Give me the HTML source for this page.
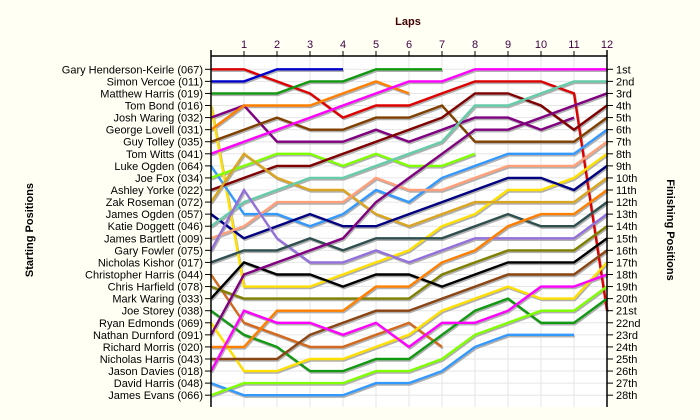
<!DOCTYPE html>
<html><head><meta charset="utf-8"><style>
html,body{margin:0;padding:0;background:#fffff4;}
svg{display:block;font-family:"Liberation Sans",sans-serif;}
</style></head><body>
<svg id="chart" width="700" height="420" viewBox="0 0 700 420" xmlns="http://www.w3.org/2000/svg">
<rect x="0" y="0" width="700" height="420" fill="#fffff4"/>
<rect x="211" y="56" width="396" height="351" fill="#ffffff"/>
<g id="grid"></g>
<g id="shadows"></g>
<g id="lines"></g>
<g id="axes"></g>
<text x="408" y="25" text-anchor="middle" font-size="11" font-weight="bold" fill="#400000">Laps</text>
<text transform="translate(33,230) rotate(-90)" text-anchor="middle" font-size="11" font-weight="bold" fill="#000">Starting Positions</text>
<text transform="translate(667,230) rotate(90)" text-anchor="middle" font-size="11" font-weight="bold" fill="#000">Finishing Positions</text>
</svg>
<script>
const drivers = ["Gary Henderson-Keirle (067)","Simon Vercoe (011)","Matthew Harris (019)","Tom Bond (016)","Josh Waring (032)","George Lovell (031)","Guy Tolley (035)","Tom Witts (041)","Luke Ogden (064)","Joe Fox (034)","Ashley Yorke (022)","Zak Roseman (072)","James Ogden (057)","Katie Doggett (046)","James Bartlett (009)","Gary Fowler (075)","Nicholas Kishor (017)","Christopher Harris (044)","Chris Harfield (078)","Mark Waring (033)","Joe Storey (038)","Ryan Edmonds (069)","Nathan Durnford (091)","Richard Morris (020)","Nicholas Harris (043)","Jason Davies (018)","David Harris (048)","James Evans (066)"];
const finishLabels = ["1st","2nd","3rd","4th","5th","6th","7th","8th","9th","10th","11th","12th","13th","14th","15th","16th","17th","18th","19th","20th","21st","22nd","23rd","24th","25th","26th","27th","28th"];
const lapTicks = [1,2,3,4,5,6,7,8,9,10,11,12];
const colors = ["#dd0000","#0000cc","#119911","#ffe000","#800080","#ff8000","#804000","#ff00ff","#3399ff","#80ff00","#800000","#daa520","#000080","#66ccaa","#ffa07a","#9370db","#2f4f4f","#d2691e","#808000","#000000","#119911","#ffe000","#800080","#ff8000","#8b4513","#ff00ff","#3399ff","#80ff00"];
const p01 = [1,1,2,3,5,4,4,3,2,2,2,3,21];
const p02 = [2,2,1,1,1];
const p03 = [3,3,3,2,2,1,1,1];
const p04 = [4,19,19,19,18,17,16,14,13,11,11,10,8];
const p05 = [5,4,7,7,7,6,7,6,5,5,6,5];
const p06 = [6,4,4,4,3,2,3];
const p07 = [7,6,5,6,6,5,5,4,7,7,7,7,5];
const p08 = [8,7,6,5,4,3,2,2,1,1,1,1,1];
const p09 = [9,13,13,14,13,11,12,10,9,8,8,8,6];
const p10 = [10,9,8,8,9,8,9,9,8];
const p11 = [11,10,9,9,8,7,6,5,3,3,4,6,4];
const p12 = [12,8,10,11,11,13,14,13,12,12,12,12,10];
const p13 = [13,15,14,13,14,14,13,12,11,10,10,11,9];
const p14 = [14,12,11,10,10,9,8,7,4,4,3,2,2];
const p15 = [15,14,12,12,12,10,11,11,10,9,9,9,7];
const p16 = [16,11,15,17,17,16,17,16,15,15,15,15,13];
const p17 = [17,16,16,15,16,15,15,15,14,13,14,14,12];
const p18 = [18,22,23,24,24,23,22,24];
const p19 = [19,20,20,20,20,20,20,18,17,16,16,16,14];
const p20 = [20,17,18,18,19,18,18,19,18,17,17,17,15];
const p21 = [21,23,24,26,26,25,25,23,21,20,22,22,20];
const p22 = [22,26,26,25,25,24,23,21,20,19,20,20,17];
const p23 = [23,18,17,16,15,12,10,8,6,6,5,4,3];
const p24 = [24,24,21,21,21,19,19,17,16,14,13,13,11];
const p25 = [25,25,25,23,22,21,21,20,19,18,18,18,16];
const p26 = [26,21,22,22,23,22,24,22,22,21,19,19,18];
const p27 = [27,28,28,28,28,27,27,26,24,23,23,23];
const p28 = [28,27,27,27,27,26,26,25,23,22,21,21,19];
const series = [p01,p02,p03,p04,p05,p06,p07,p08,p09,p10,p11,p12,p13,p14,p15,p16,p17,p18,p19,p20,p21,p22,p23,p24,p25,p26,p27,p28];

const NS="http://www.w3.org/2000/svg";
const X0=211, X1=607, Y0=69.3, DY=12.07, NL=12;
function xScale(l){return X0+(X1-X0)*l/NL;}
function yScale(p){return Y0+(p-1)*DY;}
function mk(tag,attrs,parent){const e=document.createElementNS(NS,tag);for(const k in attrs)e.setAttribute(k,attrs[k]);parent.appendChild(e);return e;}
const grid=document.getElementById('grid'),axes=document.getElementById('axes'),sh=document.getElementById('shadows'),ln=document.getElementById('lines');
for(let i=0;i<drivers.length;i++){
  const g=mk('line',{x1:X0,x2:X1,y1:yScale(i+1),y2:yScale(i+1),stroke:'#e6e6e6','stroke-width':1},grid);
  
  
}
for(const l of lapTicks){
  const g=mk('line',{x1:xScale(l),x2:xScale(l),y1:56,y2:407,stroke:'#e6e6e6','stroke-width':1},grid);
  
  
}
// axes
let a=mk('line',{x1:X0,x2:X0,y1:50,y2:407,stroke:'#000','stroke-width':1.5},axes);


a=mk('line',{x1:X1,x2:X1,y1:50,y2:407,stroke:'#000','stroke-width':1.5},axes);


a=mk('line',{x1:X0,x2:X1,y1:56,y2:56,stroke:'#000','stroke-width':1.5},axes);


for(const l of lapTicks){
  const t=mk('line',{x1:xScale(l),x2:xScale(l),y1:51,y2:56,stroke:'#000'},axes);
  
  
  const tx=mk('text',{x:xScale(l),y:48,'text-anchor':'middle','font-size':11,fill:'#400040'},axes);
  tx.textContent=l;
  
  
}
drivers.forEach((d,i)=>{
  const y=yScale(i+1);
  const t=mk('line',{x1:X0-6,x2:X0,y1:y,y2:y,stroke:'#000'},axes);
  
  
  const tx=mk('text',{x:X0-8,y:y+4,'text-anchor':'end','font-size':11,fill:'#000'},axes);
  tx.textContent=d;
  
  
});
finishLabels.forEach((f,i)=>{
  const y=yScale(i+1);
  const t=mk('line',{x1:X1,x2:X1+6,y1:y,y2:y,stroke:'#000'},axes);
  
  
  const tx=mk('text',{x:X1+9,y:y+4,'font-size':11,fill:'#000'},axes);
  tx.textContent=f;
  
  
});
series.forEach((s,i)=>{
  const pts=s.map((p,l)=>xScale(l).toFixed(1)+','+yScale(p).toFixed(1)).join(' ');
  const shp=mk('polyline',{points:pts,fill:'none',stroke:'#b0b0b0','stroke-width':2.2,'stroke-linejoin':'miter',transform:'translate(1,1.6)'},sh);
  
  
  const pl=mk('polyline',{points:pts,fill:'none',stroke:colors[i],'stroke-width':2.4,'stroke-linejoin':'miter'},ln);
  
  
});
</script>
</body></html>
